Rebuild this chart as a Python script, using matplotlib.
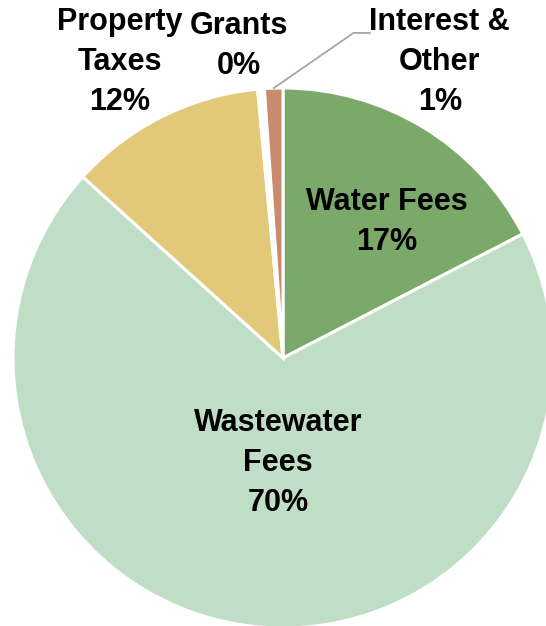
import numpy as np
import matplotlib.pyplot as plt

# revenue sources
labels = ["Water Fees", "Wastewater\nFees", "Property\nTaxes", "Grants", "Interest &\nOther"]
values = [17.4, 69.3, 11.8, 0.4, 1.1]
pct_text = ["17%", "70%", "12%", "0%", "1%"]
colors = ["#7BA96A", "#C0DDC6", "#E2C97A", "#FFFFFF", "#C98B6C"]

plt.rcParams['font.family'] = ['Liberation Sans', 'DejaVu Sans']

fig = plt.figure(figsize=(5.46, 6.26), dpi=100)
ax = fig.add_axes([0, 0, 1, 1])

wedges, _ = ax.pie(values, colors=colors, startangle=90, counterclock=False,
                   radius=1.0, wedgeprops=dict(edgecolor="white", linewidth=2.2))

ax.set_xlim(-283 / 270, 263 / 270)
ax.set_ylim(-268 / 270, 358 / 270)
ax.set_aspect("auto")
ax.axis("off")

# label spots (data units, pie radius = 1)
lab_pos = [(0.385, 0.505), (-0.019, -0.389), (-0.604, 1.096), (-0.165, 1.156), (0.581, 1.096)]
for i in range(len(labels)):
    x, y = lab_pos[i]
    ax.text(x, y, labels[i] + "\n" + pct_text[i], ha="center", va="center",
            fontsize=22, fontweight="bold", linespacing=1.43, color="black")

# leader line for Interest & Other
w = wedges[4]
mid = np.deg2rad((w.theta1 + w.theta2) / 2)
x0, y0 = np.cos(mid), np.sin(mid)
ex, ey = lab_pos[4][0] - 0.26, 1.204
ax.plot([x0, ex - 0.06, ex], [y0, ey, ey], color="#A6A6A6", lw=1.3)

fig.savefig("out.png", dpi=100)
